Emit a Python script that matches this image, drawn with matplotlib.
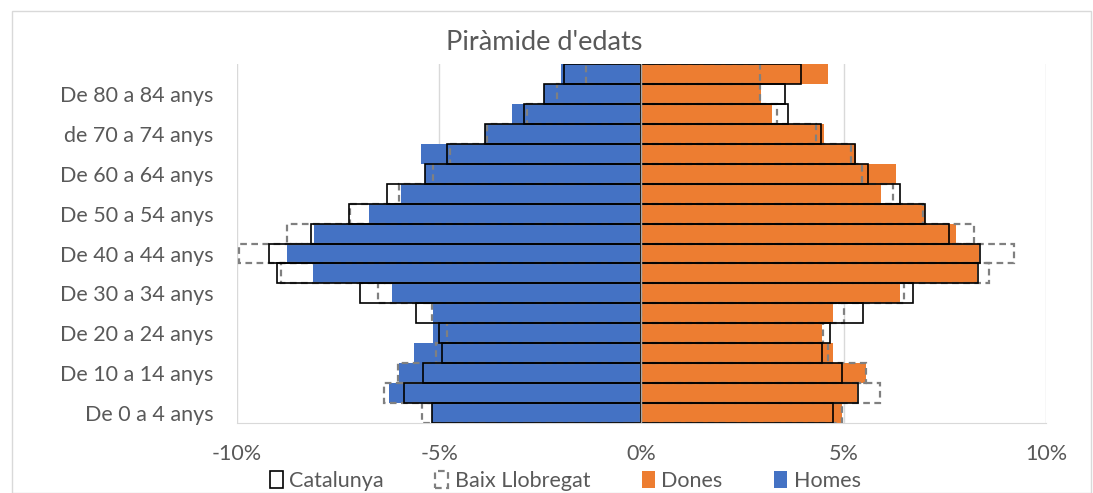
import numpy as np
from matplotlib import pyplot as plt
from matplotlib.patches import Patch, Rectangle

plt.rcParams['font.family'] = ['Lato', 'DejaVu Sans']

# Piràmide d'edats: percentatges per franja d'edat (de baix a dalt)
franges = ['De 0 a 4 anys', 'De 5 a 9 anys', 'De 10 a 14 anys', 'De 15 a 19 anys',
           'De 20 a 24 anys', 'De 25 a 29 anys', 'De 30 a 34 anys', 'De 35 a 39 anys',
           'De 40 a 44 anys', 'De 45 a 49 anys', 'De 50 a 54 anys', 'De 55 a 59 anys',
           'De 60 a 64 anys', 'De 65 a 69 anys', 'de 70 a 74 anys', 'De 75 a 79 anys',
           'De 80 a 84 anys', 'De 85 anys i més']

homes = [-5.17, -6.25, -6.00, -5.63, -5.16, -5.16, -6.17, -8.11, -8.76, -8.10,
         -6.74, -5.94, -5.34, -5.45, -3.88, -3.21, -2.41, -2.00]
dones = [4.96, 5.32, 5.54, 4.73, 4.47, 4.73, 6.38, 8.29, 8.34, 7.78,
         7.00, 5.93, 6.30, 5.31, 4.50, 3.23, 2.96, 4.61]

cat_homes = [-5.17, -5.88, -5.41, -4.94, -5.01, -5.57, -6.96, -9.02, -9.20, -8.18,
             -7.22, -6.29, -5.34, -4.82, -3.88, -2.91, -2.41, -1.92]
cat_dones = [4.73, 5.35, 4.95, 4.47, 4.66, 5.47, 6.72, 8.32, 8.36, 7.60,
             7.01, 6.40, 5.60, 5.27, 4.43, 3.62, 3.54, 3.95]

bll_homes = [-5.42, -6.37, -6.02, -5.09, -4.81, -5.18, -6.52, -8.91, -9.96, -8.77,
             -7.20, -6.00, -5.16, -4.73, -3.82, -2.83, -2.09, -1.37]
bll_dones = [4.96, 5.90, 5.54, 4.61, 4.48, 5.00, 6.49, 8.60, 9.22, 8.23,
             6.95, 6.21, 5.46, 5.18, 4.32, 3.35, 2.92, 2.92]

blau = '#4472C4'
taronja = '#ED7D31'
gris = '#808080'
text_color = '#595959'

y = np.arange(len(franges))

fig = plt.figure(figsize=(10.93, 4.93), dpi=100)
ax = fig.add_axes([0.2168, 0.142, 0.7402, 0.728])

ax.barh(y, homes, height=1.0, color=blau, zorder=2)
ax.barh(y, dones, height=1.0, color=taronja, zorder=2)

ax.barh(y, bll_homes, height=1.0, fill=False, edgecolor=gris, linewidth=1.6,
        linestyle=(0, (3, 2)), zorder=3)
ax.barh(y, bll_dones, height=1.0, fill=False, edgecolor=gris, linewidth=1.6,
        linestyle=(0, (3, 2)), zorder=3)

ax.barh(y, cat_homes, height=1.0, fill=False, edgecolor='black', linewidth=1.2, zorder=4)
ax.barh(y, cat_dones, height=1.0, fill=False, edgecolor='black', linewidth=1.2, zorder=4)

ax.axvline(0, color='#A6A6A6', linewidth=1.0, zorder=5)

ax.set_xlim(-10, 10)
ax.set_ylim(-0.5, len(franges) - 0.5)
ax.set_xticks([-10, -5, 0, 5, 10])
ax.set_xticklabels(['%d%%' % v for v in [-10, -5, 0, 5, 10]])
ax.set_yticks(y[::2])
ax.set_yticklabels(franges[::2])
ax.tick_params(axis='both', length=0, labelsize=15.5, colors=text_color)
ax.tick_params(axis='x', pad=15)
ax.tick_params(axis='y', pad=17)
ax.grid(axis='x', color='#D9D9D9', linewidth=1.0, zorder=0)
ax.set_axisbelow(True)
for s in ['top', 'left', 'right']:
    ax.spines[s].set_visible(False)
ax.spines['bottom'].set_color('#D9D9D9')

fig.text(544 / 1093, 1 - 42 / 493, "Piràmide d'edats", fontsize=19.5, color=text_color,
         ha='center', va='center')

handles = [
    Patch(facecolor='white', edgecolor='black', linewidth=1.2, label='Catalunya'),
    Patch(facecolor='white', edgecolor=gris, linewidth=1.6, linestyle=(0, (3, 2)),
          label='Baix Llobregat'),
    Patch(facecolor=taronja, label='Dones'),
    Patch(facecolor=blau, label='Homes'),
]
fig.legend(handles=handles, loc='lower center', bbox_to_anchor=(0.517, -0.035), ncol=4,
           frameon=False, fontsize=15.5, labelcolor=text_color, handlelength=0.6,
           handleheight=0.9, handletextpad=0.3, columnspacing=2.4)

fig.add_artist(Rectangle((12 / 1093, 0), 1079 / 1093, (493 - 11) / 493,
                         transform=fig.transFigure, fill=False,
                         edgecolor='#D9D9D9', linewidth=1.0))

fig.savefig('out.png', dpi=100)
